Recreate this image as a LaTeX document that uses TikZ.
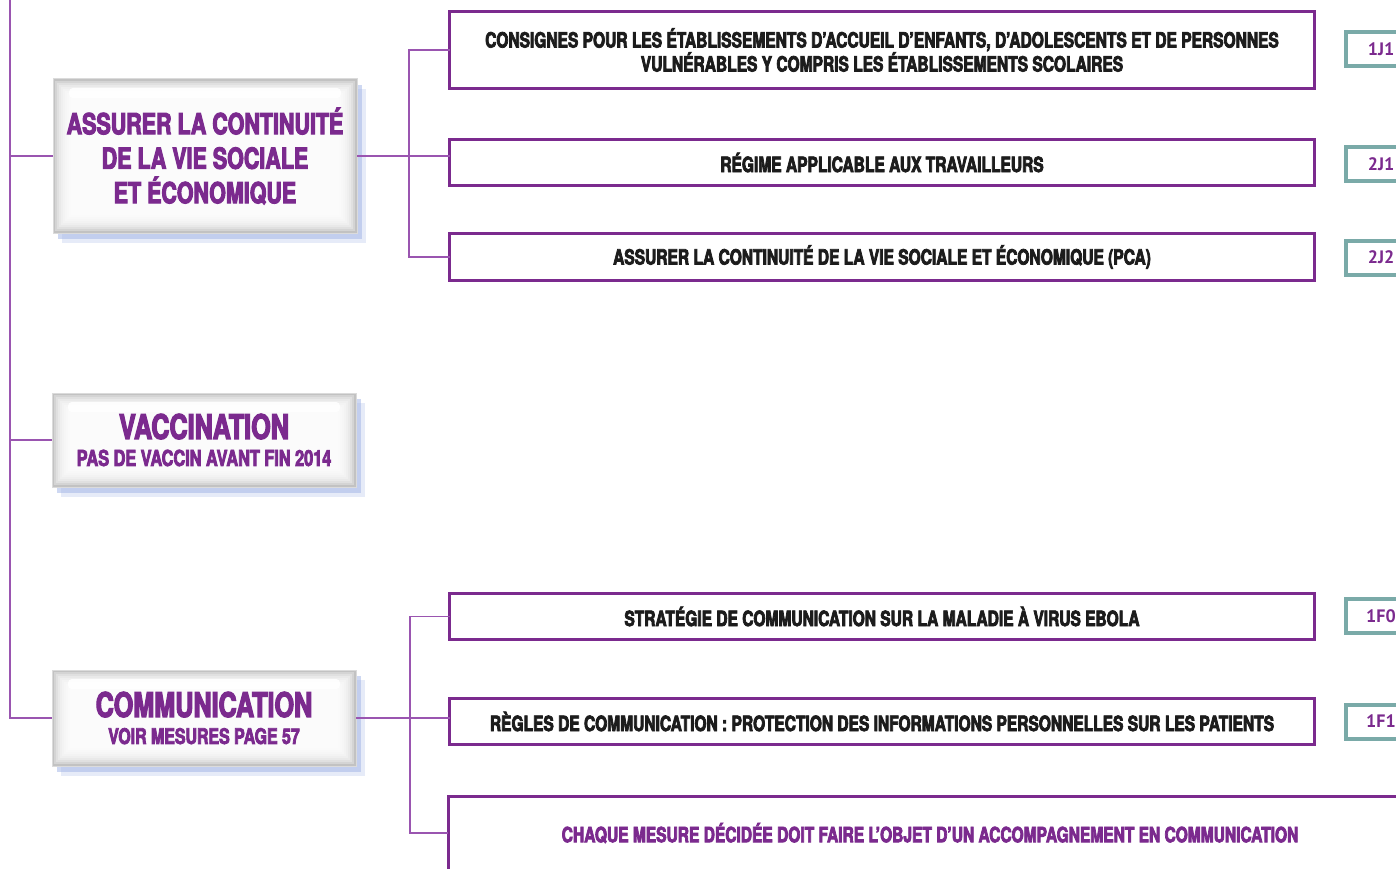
\documentclass[tikz,border=0pt]{standalone}
\usepackage{fontspec}
\usepackage{tikz}
\usetikzlibrary{shadows}
\newfontfamily\condfont{texgyreheros-bold.otf}[FakeStretch=0.74,FakeBold=3.5]
\newfontfamily\tagfont{PT Sans}
\definecolor{cVio} {HTML}{7B2A8E}
\definecolor{cLink}{HTML}{9A55B0}
\definecolor{cTeal}{HTML}{7AAAA8}
\definecolor{cShad}{HTML}{9FB2E6}
\definecolor{cInk} {HTML}{1C1C1C}
\tikzset{
  hub/.style   ={draw=black!14,line width=1pt,fill=black!24,
                 minimum width=304pt,align=center,text=cVio,
                 drop shadow={shadow xshift=9pt,shadow yshift=-10pt,fill=cShad,opacity=.25},
                 drop shadow={shadow xshift=5pt,shadow yshift=-6pt,fill=cShad,opacity=.5},
                 path picture={
                   \foreach \i in {1,...,9}{
                     \fill[white,opacity=.3]
                       ([xshift=2*\i pt,yshift=-2*\i pt]path picture bounding box.north west) rectangle
                       ([xshift=-2*\i pt,yshift=2*\i pt]path picture bounding box.south east);
                   }
                   \fill[white,opacity=.9,rounded corners=4pt]
                     ([xshift=16pt,yshift=-9pt]path picture bounding box.north west) rectangle
                     ([xshift=-16pt,yshift=-19pt]path picture bounding box.north east);}},
  item/.style  ={draw=cVio,line width=3pt,fill=white,minimum width=865pt,align=center,
                 inner sep=0pt,text=cInk,font=\condfont\fontsize{21}{24}\selectfont},
  refbox/.style={draw=cTeal,line width=4pt,fill=white,minimum width=70pt,minimum height=34pt,
                 text=cVio,font=\tagfont\bfseries\fontsize{18}{20}\selectfont},
  link/.style  ={draw=cLink,line width=1.3pt},
}

\begin{document}
\begin{tikzpicture}[x=1pt,y=-1pt,every node/.style={outer sep=0pt}]
\fill[white] (0,0) rectangle (1396,869);
\clip (0,0) rectangle (1396,869);

% left column
\node[hub,minimum height=154pt,font=\condfont\fontsize{29}{34.5}\selectfont] (assur) at (205,156)
  {ASSURER LA CONTINUITÉ\\DE LA VIE SOCIALE\\ET ÉCONOMIQUE};
\node[hub,minimum height=94pt,font=\condfont\fontsize{22}{27}\selectfont] (vacc) at (204,440)
  {{\fontsize{34}{34}\selectfont VACCINATION}\\PAS DE VACCIN AVANT FIN 2014};
\node[hub,minimum height=96pt,font=\condfont\fontsize{21.5}{27}\selectfont] (comm) at (204,718)
  {{\fontsize{34}{34}\selectfont COMMUNICATION}\\VOIR MESURES PAGE 57};

\coordinate (root) at (10,0);
\draw[link] (root) |- (comm.west);
\draw[link] (assur.west -| root) -- (assur.west);
\draw[link] (vacc.west -| root) -- (vacc.west);

% measures
\node[item,minimum height=77pt] (it1) at (882,50)
  {CONSIGNES POUR LES ÉTABLISSEMENTS D’ACCUEIL D’ENFANTS, D’ADOLESCENTS ET DE PERSONNES\\VULNÉRABLES Y COMPRIS LES ÉTABLISSEMENTS SCOLAIRES};
\node[item,minimum height=46pt] (it2) at (882,162.5) {RÉGIME APPLICABLE AUX TRAVAILLEURS};
\node[item,minimum height=47pt] (it3) at (882,257) {ASSURER LA CONTINUITÉ DE LA VIE SOCIALE ET ÉCONOMIQUE (PCA)};
\node[item,minimum height=46pt] (it4) at (882,616.5) {STRATÉGIE DE COMMUNICATION SUR LA MALADIE À VIRUS EBOLA};
\node[item,minimum height=46pt] (it5) at (882,721.5) {RÈGLES DE COMMUNICATION : PROTECTION DES INFORMATIONS PERSONNELLES SUR LES PATIENTS};
\node[item,minimum height=74pt,minimum width=964pt,text=cVio] (it6) at (930,833)
  {CHAQUE MESURE DÉCIDÉE DOIT FAIRE L’OBJET D’UN ACCOMPAGNEMENT EN COMMUNICATION};

\foreach \y/\n/\lab in {49.5/r1/1J1, 164/r2/2J1, 257.5/r3/2J2, 616/r4/1F0, 721.5/r5/1F1}{
  \node[refbox] (\n) at (1381,\y) {\lab};
}

\coordinate (bx1) at (409,157);
\coordinate (bx2) at (410,720);
\draw[link] (assur.east) -- (assur.east -| it2.west);
\draw[link] (it1.west) -| (bx1) |- (it3.west);
\draw[link] (comm.east) -- (comm.east -| it5.west);
\draw[link] (it4.west) -| (bx2) |- (it6.west);
\end{tikzpicture}
\end{document}
